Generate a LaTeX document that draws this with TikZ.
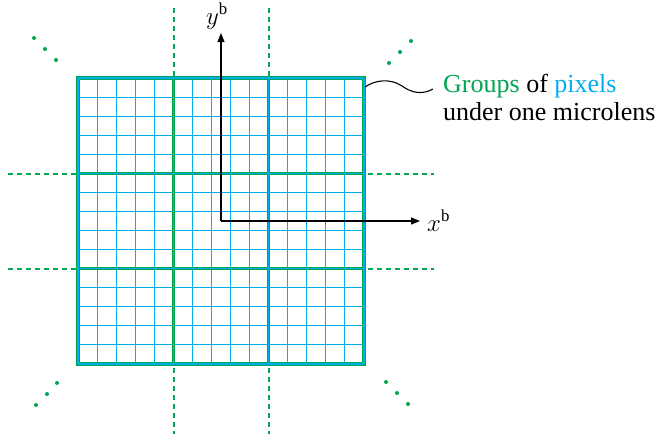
\documentclass[tikz,border=0pt]{standalone}
\usepackage{fontspec}
\setmainfont{Liberation Serif}
\usetikzlibrary{arrows.meta}
\definecolor{grp}{RGB}{0,166,81}
\definecolor{pix}{RGB}{0,174,239}
\tikzset{
  pixline/.style={pix,line width=1.1pt},
  grpouter/.style={grp,line width=3.6pt},
  grpinner/.style={pix,line width=1.2pt},
  guide/.style={grp,line width=1.3pt,dash pattern=on 5pt off 4pt},
  axis/.style={black,line width=1.1pt,-{Triangle[length=9pt,width=7pt]}},
  dot/.style={circle,fill=grp,inner sep=0pt,minimum size=4pt},
  lbl/.style={font=\fontsize{26}{28}\selectfont,anchor=base west,inner sep=0pt},
  mlbl/.style={font=\fontsize{24}{28}\selectfont,anchor=base west,inner sep=0pt}
}
\begin{document}
\begin{tikzpicture}[x=1pt,y=-1pt]
\useasboundingbox (0,0) rectangle (667,437);
% guides
\foreach \v in {174,269}{
  \draw[guide] (\v,8) -- (\v,434);
  \draw[guide] (8,\v) -- (434,\v);
}
\fill[white] (78,78) rectangle (364,364);
% pixel grid
\foreach \i in {1,...,14}{
  \pgfmathsetmacro{\p}{78+\i*286/15}
  \draw[pixline] (\p,78) -- (\p,364);
  \draw[pixline] (78,\p) -- (364,\p);
}
% group lines
\foreach \g in {0,1,2,3}{
  \pgfmathsetmacro{\p}{78+\g*286/3}
  \draw[grpouter] (\p,78) -- (\p,364);
  \draw[grpouter] (78,\p) -- (364,\p);
}
\draw[grpouter,line cap=rect] (78,78) rectangle (364,364);
\foreach \g in {0,1,2,3}{
  \pgfmathsetmacro{\p}{78+\g*286/3}
  \draw[grpinner] (\p,78) -- (\p,364);
  \draw[grpinner] (78,\p) -- (364,\p);
}
% axes
\coordinate (o) at (221,221);
\coordinate (xe) at (420,221);
\coordinate (ye) at (221,33);
\draw[axis] (o) -- (xe);
\draw[axis] (o) -- (ye);
\node[mlbl] (xl) at (427,231) {$x^{\mathrm{b}}$};
\node[mlbl] (yl) at (206,24) {$y^{\mathrm{b}}$};
% dots
\foreach \a/\b in {34/38,45/49,56/60, 389/63,400/52,411/41, 36/405,47/394,57/383, 386/382,397/393,408/404}{
  \node[dot] at (\a,\b) {};
}
% label and wavy connector
\node[lbl] (lab1) at (443,92) {\textcolor{grp}{Groups} of \textcolor{pix}{pixels}};
\node[lbl] (lab2) at (443,120) {under one microlens};
\coordinate (cs) at (365,87);
\coordinate (ce) at (433,89);
\draw[black,line width=1.1pt] (cs) .. controls (375,80) and (390,78) .. (402,86)
  .. controls (412,93) and (422,95) .. (ce);
\end{tikzpicture}
\end{document}
